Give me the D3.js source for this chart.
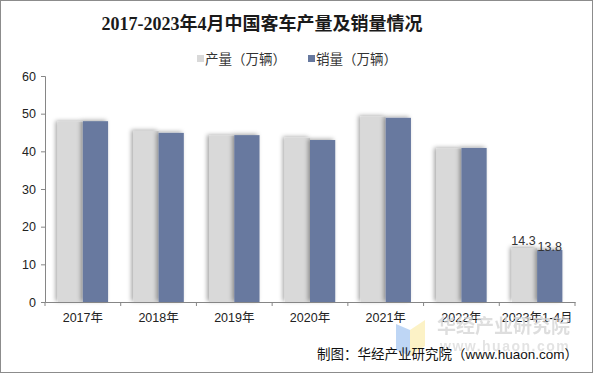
<!DOCTYPE html>
<html>
<head>
<meta charset="utf-8">
<script src="https://cdn.jsdelivr.net/npm/d3@7"></script>
<style>
  body { margin: 0; background: #fff; }
  text { font-family: "Liberation Sans", Arial, "Noto Sans CJK SC", sans-serif; }
</style>
</head>
<body>
<div id="container"></div>
<script>
var width = 593;
var height = 373;

var categories = ["2017年", "2018年", "2019年", "2020年", "2021年", "2022年", "2023年1-4月"];
var production = [47.8, 45.4, 44.1, 43.6, 49.2, 40.7, 14.3];
var sales = [48.0, 44.9, 44.3, 43.0, 48.9, 40.9, 13.8];
var seriesNames = ["产量（万辆）", "销量（万辆）"];
var colors = ["#d9d9d9", "#67799f"];
var yTicks = [0, 10, 20, 30, 40, 50, 60];

var svg = d3.select("#container")
  .append("svg")
  .attr("width", width)
  .attr("height", height);

// soft shadow like the office chart
var defs = svg.append("defs");
var f = defs.append("filter").attr("id", "shadow")
  .attr("x", "-30%").attr("y", "-10%").attr("width", "160%").attr("height", "120%");
f.append("feDropShadow")
  .attr("dx", -2).attr("dy", -1)
  .attr("stdDeviation", 2.2)
  .attr("flood-color", "#000")
  .attr("flood-opacity", 0.35);

svg.append("rect")
  .attr("x", 0.5).attr("y", 0.5)
  .attr("width", width - 1).attr("height", height - 1)
  .attr("fill", "#fff")
  .attr("stroke", "#8c8c8c");

// title
svg.append("text")
  .attr("x", 262).attr("y", 30)
  .attr("text-anchor", "middle")
  .style("font-family", "'Liberation Serif', 'Noto Sans CJK SC', serif")
  .style("font-size", "18px")
  .style("font-weight", "bold")
  .attr("fill", "#1a1a1a")
  .text("2017-2023年4月中国客车产量及销量情况");

// legend
var legend = svg.append("g");
var legendX = [197, 308];
seriesNames.forEach(function(name, i) {
  legend.append("rect")
    .attr("x", legendX[i]).attr("y", 55)
    .attr("width", 7).attr("height", 7)
    .attr("fill", colors[i]);
  legend.append("text")
    .attr("x", legendX[i] + 8).attr("y", 64)
    .style("font-size", "13.5px")
    .attr("fill", "#333")
    .text(name);
});

var x = d3.scaleBand()
  .domain(categories)
  .range([45, 575])
  .paddingInner(0)
  .paddingOuter(0);

var y = d3.scaleLinear()
  .domain([0, 60])
  .range([302, 76]);

var inner = d3.scaleBand()
  .domain([0, 1])
  .range([0, x.bandwidth()])
  .paddingInner(0)
  .paddingOuter(0.5);

// bars
var groups = svg.append("g")
  .selectAll("g")
  .data(categories)
  .enter().append("g")
  .attr("transform", function(d) { return "translate(" + x(d) + ",0)"; });

[production, sales].forEach(function(series, s) {
  groups.append("rect")
    .attr("x", inner(s))
    .attr("y", function(d, i) { return y(series[i]); })
    .attr("width", inner.bandwidth())
    .attr("height", function(d, i) { return y(0) - y(series[i]); })
    .attr("fill", colors[s])
    .attr("filter", "url(#shadow)");
});

// y axis
var yAxis = svg.append("g")
  .attr("transform", "translate(45,0)")
  .call(d3.axisLeft(y).tickValues(yTicks).tickSize(4).tickPadding(5));
yAxis.select(".domain").attr("stroke", "#868686");
yAxis.selectAll(".tick line").attr("stroke", "#868686");
yAxis.selectAll(".tick text")
  .style("font-size", "12.5px")
  .attr("fill", "#222");

// x axis
var xAxis = svg.append("g")
  .attr("transform", "translate(0," + y(0) + ")")
  .call(d3.axisBottom(x).tickSize(0).tickPadding(11));
xAxis.select(".domain").attr("stroke", "#868686");
xAxis.selectAll(".tick text")
  .style("font-size", "12.5px")
  .attr("fill", "#222");
xAxis.selectAll(".sep")
  .data(d3.range(categories.length + 1))
  .enter().append("line")
  .attr("x1", function(i) { return x.range()[0] + i * x.step(); })
  .attr("x2", function(i) { return x.range()[0] + i * x.step(); })
  .attr("y1", 0).attr("y2", 4)
  .attr("stroke", "#868686");

// data labels on the last category
var last = categories.length - 1;
[production, sales].forEach(function(series, s) {
  svg.append("text")
    .attr("x", x(categories[last]) + inner(s) + inner.bandwidth() / 2 - 1 + s * 1)
    .attr("y", y(series[last]) - 3 + s * 4)
    .attr("text-anchor", "middle")
    .style("font-size", "12.5px")
    .attr("fill", "#333")
    .text(series[last].toFixed(1));
});

// watermark
var wm = svg.append("g").attr("opacity", 0.75);
wm.append("path")
  .attr("d", "M396,324 L410,330 L410,356 L396,350 Z")
  .attr("fill", "#a9c9f2");
wm.append("path")
  .attr("d", "M410,330 L425,320 L425,346 L410,356 Z")
  .attr("fill", "#fbeeb4");
wm.append("text")
  .attr("x", 437).attr("y", 333)
  .style("font-family", "'Noto Sans CJK SC', sans-serif")
  .style("font-size", "19px")
  .style("font-weight", "bold")
  .attr("fill", "#d4d4d4")
  .text("华经产业研究院");
wm.append("text")
  .attr("x", 440).attr("y", 351)
  .style("font-size", "14px")
  .style("font-weight", "bold")
  .style("letter-spacing", "1.5px")
  .attr("fill", "#dadada")
  .text("www.huaon.com");

// source
svg.append("text")
  .attr("x", 578).attr("y", 359)
  .attr("text-anchor", "end")
  .style("font-size", "13.5px")
  .attr("fill", "#111")
  .text("制图：华经产业研究院（www.huaon.com）");
</script>
</body>
</html>
